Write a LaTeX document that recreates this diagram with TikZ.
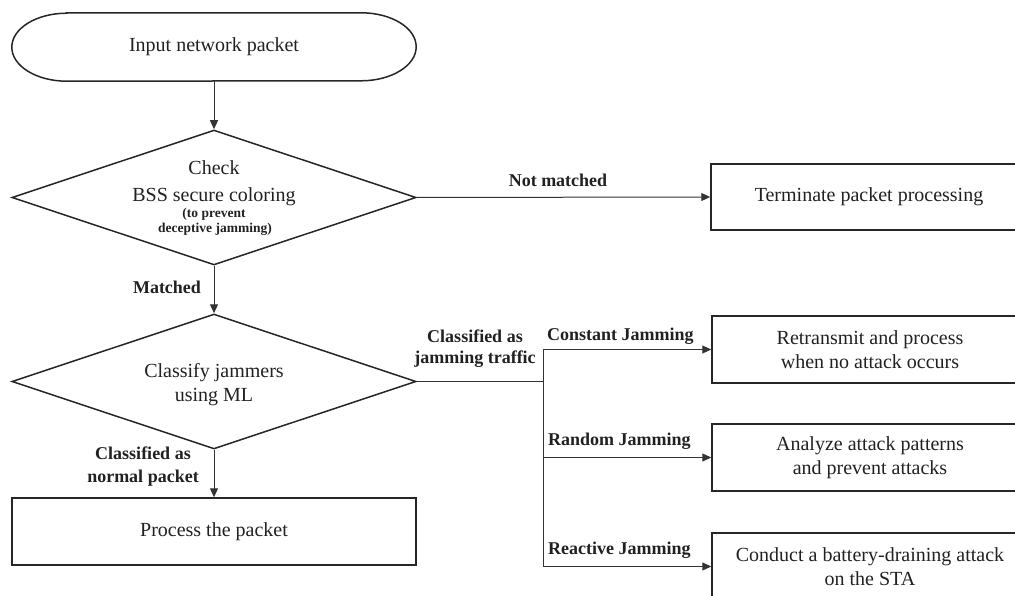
\documentclass[tikz,border=0pt]{standalone}
\usepackage{fontspec}
\setmainfont{Liberation Serif}
\usetikzlibrary{shapes.geometric,arrows.meta}
\begin{document}
\begin{tikzpicture}[x=1pt,y=-1pt,
  every node/.style={text=black!87},
  body/.style={font=\fontsize{20}{24}\selectfont, align=center},
  lab/.style={font=\fontsize{18}{21}\selectfont\bfseries, align=center, inner sep=0pt},
  note/.style={font=\fontsize{13.5}{15}\selectfont\bfseries, inner sep=0pt},
  shapeline/.style={draw=black!85, line width=1.5pt},
  procbox/.style={shapeline, body, rectangle, inner sep=0pt},
  decision/.style={shapeline, diamond, inner sep=0pt, minimum width=404pt, minimum height=135pt},
  conn/.style={draw=black!80, line width=1pt, -{Triangle[length=9pt,width=8pt]}},
  plain/.style={draw=black!80, line width=1pt},
]
\useasboundingbox (0,0) rectangle (1015,596);
\clip (0,0) rectangle (1015,596);
\fill[white] (0,0) rectangle (1015,596);

% start terminal
\node[body, minimum width=404pt, minimum height=68pt, inner sep=0pt] (start) at (214,47) {Input network packet};
\draw[shapeline] ([xshift=55pt]start.north west) -- ([xshift=-55pt]start.north east)
  arc[start angle=90,end angle=-90,x radius=55pt,y radius=34pt]
  -- ([xshift=55pt]start.south west)
  arc[start angle=270,end angle=90,x radius=55pt,y radius=34pt] -- cycle;

% decision 1
\node[decision] (d1) at (214,197.5) {};
\node[body, anchor=base, inner sep=0pt] (d1a) at (214,175) {Check};
\node[body, anchor=base, inner sep=0pt] (d1b) at (214,202) {BSS secure coloring};
\node[note, anchor=base] (d1c) at (214,217.5) {(to prevent};
\node[note, anchor=base] (d1d) at (215,233) {deceptive jamming)};

% terminate
\node[procbox, minimum width=316pt, minimum height=66pt] (term) at (869,197) {Terminate packet processing};

% decision 2
\node[decision] (d2) at (214,381.5) {};
\node[body, anchor=base, inner sep=0pt] (d2a) at (214,377) {Classify jammers};
\node[body, anchor=base, inner sep=0pt] (d2b) at (214,401) {using ML};

% process
\node[procbox, minimum width=404pt, minimum height=67pt] (proc) at (214,531.5) {Process the packet};

% jamming boxes
\node[procbox, minimum width=316pt, minimum height=67pt] (box1) at (870,349.5) {Retransmit and process\\when no attack occurs};
\node[procbox, minimum width=316pt, minimum height=67pt] (box2) at (870,457.5) {Analyze attack patterns\\and prevent attacks};
\node[procbox, minimum width=316pt, minimum height=67pt] (box3) at (870,566.5) {Conduct a battery-draining attack\\on the STA};

% connectors
\draw[conn] (start.south) -- (d1.north);
\draw[conn] (d1.east) -- (term.west);
\draw[conn] (d1.south) -- (d2.north);
\draw[conn] (d2.south) -- (proc.north);
\coordinate (split) at (543,381.5);
\draw[plain] (d2.east) -- (split);
\draw[plain] (split |- box1.west) -- (split |- box3.west);
\draw[conn] (split |- box1.west) -- (box1.west);
\draw[conn] (split |- box2.west) -- (box2.west);
\draw[conn] (split |- box3.west) -- (box3.west);

% labels
\node[lab, anchor=base] (lnm) at (558,187) {Not matched};
\node[lab, anchor=base] (lm) at (167,293) {Matched};
\node[lab, anchor=base] (ln1) at (143,459) {Classified as};
\node[lab, anchor=base] (ln2) at (143,482) {normal packet};
\node[lab, anchor=base] (lj1) at (475,342) {Classified as};
\node[lab, anchor=base] (lj2) at (475,363) {jamming traffic};
\node[lab, anchor=base west] (lc) at (547,340) {Constant Jamming};
\node[lab, anchor=base west] (lr) at (548,445) {Random Jamming};
\node[lab, anchor=base west] (lx) at (548,554) {Reactive Jamming};
\end{tikzpicture}
\end{document}
